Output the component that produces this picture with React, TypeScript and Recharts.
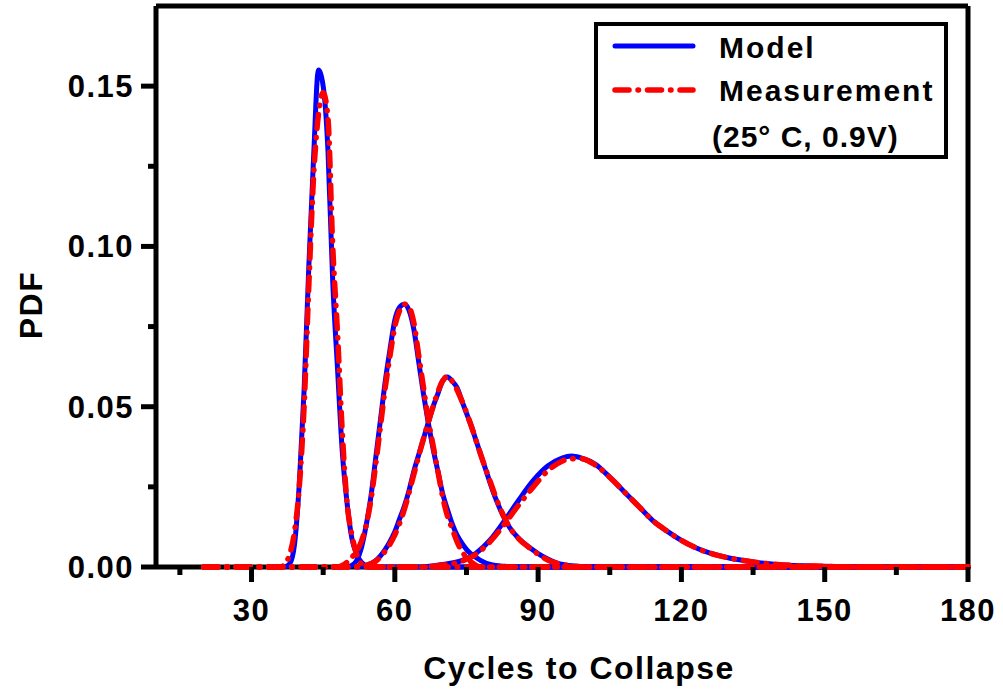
import React from 'react';
import { LineChart, Line, XAxis, YAxis, ReferenceLine, Legend } from 'recharts';

// ---- axes / ticks ----
const xDomain: [number, number] = [10, 180];
const yDomain: [number, number] = [0, 0.175];
const xTicks = [15, 30, 45, 60, 75, 90, 105, 120, 135, 150, 165, 180];
const xMajorTicks = [30, 60, 90, 120, 150, 180];
const yTicks = [0, 0.025, 0.05, 0.075, 0.1, 0.125, 0.15];
const yMajorTicks = [0, 0.05, 0.1, 0.15];

const seriesNames = ['Model', 'Measurement'];
const legendNote = '(25° C, 0.9V)';
const xTitle = 'Cycles to Collapse';
const yTitle = 'PDF';

// ---- Model curves (blue, solid) ----
const model1X = [37, 38, 39, 40, 41, 42, 43, 44, 45, 46, 47, 48, 49, 50, 51, 52, 53, 55, 60, 80, 120, 180];
const model1Y = [0, 0.001, 0.007, 0.026, 0.055, 0.094, 0.128, 0.155, 0.15, 0.13, 0.089, 0.062, 0.036, 0.02, 0.009, 0.004, 0.0015, 0, 0, 0, 0, 0];

const model2X = [50, 51, 52, 53, 54, 55, 56, 57, 58, 59, 60, 61, 62, 63, 64, 65, 66, 67, 68, 69, 70, 71, 72, 73, 74, 75, 76, 77, 78, 80, 83, 86, 100, 140, 180];
const model2Y = [0, 0.0005, 0.002, 0.006, 0.013, 0.022, 0.034, 0.046, 0.058, 0.068, 0.077, 0.081, 0.082, 0.08, 0.074, 0.064, 0.054, 0.045, 0.037, 0.03, 0.023, 0.018, 0.0135, 0.01, 0.0075, 0.0055, 0.004, 0.003, 0.002, 0.0008, 0.0002, 0, 0, 0, 0];

const model3X = [52, 54, 56, 57, 58, 59, 60, 61, 62, 63, 64, 65, 66, 67, 68, 69, 70, 71, 72, 73, 74, 75, 76, 77, 78, 79, 80, 81, 82, 83, 84, 86, 88, 90, 92, 94, 97, 102, 140, 180];
const model3Y = [0, 0.0005, 0.002, 0.0035, 0.0055, 0.008, 0.011, 0.015, 0.019, 0.024, 0.03, 0.035, 0.04, 0.045, 0.05, 0.054, 0.058, 0.0593, 0.058, 0.056, 0.052, 0.048, 0.044, 0.0395, 0.035, 0.0305, 0.026, 0.0218, 0.0182, 0.015, 0.0124, 0.0088, 0.0063, 0.0042, 0.0025, 0.0012, 0.0004, 0, 0, 0];

const model4X = [66, 70, 74, 77, 80, 83, 86, 89, 92, 95, 97, 99, 102, 105, 108, 111, 114, 117, 120, 123, 126, 130, 135, 140, 150, 160, 180];
const model4Y = [0, 0.0008, 0.002, 0.0043, 0.0085, 0.0145, 0.021, 0.027, 0.0315, 0.034, 0.0346, 0.034, 0.032, 0.028, 0.0235, 0.019, 0.0145, 0.0112, 0.0083, 0.006, 0.0043, 0.0028, 0.0016, 0.0008, 0.0002, 0, 0];

// ---- Measurement curves (red, dash-dot) ----
const meas1X = [20, 25, 30, 35, 36, 37, 38, 39, 40, 41, 42, 43, 44, 45, 46, 47, 48, 49, 50, 51, 52, 53, 55, 60, 80, 120, 180];
const meas1Y = [0, 0, 0, 0, 0, 0.001, 0.004, 0.011, 0.025, 0.05, 0.088, 0.122, 0.141, 0.148, 0.14, 0.1, 0.073, 0.042, 0.02, 0.01, 0.004, 0.001, 0, 0, 0, 0, 0];

const meas2X = [20, 30, 40, 45, 48, 49, 50, 51, 52, 53, 54, 55, 56, 57, 58, 59, 60, 61, 62, 63, 64, 65, 66, 67, 68, 69, 70, 71, 72, 73, 74, 75, 76, 77, 78, 80, 85, 100, 140, 180];
const meas2Y = [0, 0, 0, 0, 0, 0.0005, 0.0015, 0.003, 0.005, 0.008, 0.013, 0.021, 0.032, 0.044, 0.056, 0.066, 0.075, 0.08, 0.082, 0.081, 0.076, 0.066, 0.056, 0.046, 0.038, 0.03, 0.022, 0.016, 0.012, 0.008, 0.005, 0.003, 0.0015, 0.0005, 0, 0, 0, 0, 0, 0];

const meas3X = [20, 30, 40, 50, 54, 56, 58, 60, 62, 64, 66, 68, 70, 71, 72, 74, 76, 78, 80, 82, 84, 86, 88, 90, 92, 95, 100, 120, 150, 180];
const meas3Y = [0, 0, 0, 0, 0.0005, 0.0018, 0.005, 0.01, 0.018, 0.029, 0.04, 0.05, 0.058, 0.0595, 0.058, 0.052, 0.044, 0.035, 0.0265, 0.0185, 0.0125, 0.0087, 0.0062, 0.004, 0.0022, 0.0008, 0, 0, 0, 0];

const meas4X = [20, 40, 60, 66, 70, 74, 77, 80, 83, 86, 89, 92, 95, 97, 99, 102, 105, 108, 111, 114, 117, 120, 123, 126, 130, 135, 140, 150, 160, 180];
const meas4Y = [0, 0, 0, 0, 0.0006, 0.0018, 0.004, 0.008, 0.0135, 0.0195, 0.025, 0.03, 0.033, 0.0338, 0.0338, 0.0318, 0.028, 0.0235, 0.019, 0.0145, 0.0112, 0.0083, 0.006, 0.0043, 0.0028, 0.0016, 0.0008, 0.0002, 0, 0];

const toPoints = (xs: number[], ys: number[]) => xs.map((x, i) => ({ x, y: ys[i] }));

const modelSeries = [
  toPoints(model1X, model1Y),
  toPoints(model2X, model2Y),
  toPoints(model3X, model3Y),
  toPoints(model4X, model4Y),
];
const measSeries = [
  toPoints(meas1X, meas1Y),
  toPoints(meas2X, meas2Y),
  toPoints(meas3X, meas3Y),
  toPoints(meas4X, meas4Y),
];

const FONT = "'Liberation Sans', Arial, Helvetica, sans-serif";
const BLUE = '#0000ff';
const RED = '#ff0000';
const DASH = '14 9 0.5 9';
const AXIS_W = 5;

const XTick = (props: any) => {
  const { x, y, payload } = props;
  const major = xMajorTicks.includes(payload.value);
  return (
    <g>
      <line x1={x} y1={y} x2={x} y2={y + (major ? 15 : 8)} stroke="#000" strokeWidth={AXIS_W} />
      {major && (
        <text x={x} y={y + 54} textAnchor="middle" fontFamily={FONT} fontWeight="bold" fontSize={31} fill="#000" style={{ letterSpacing: 1.5 }}>
          {payload.value}
        </text>
      )}
    </g>
  );
};

const YTick = (props: any) => {
  const { x, y, payload } = props;
  const major = yMajorTicks.some((m) => Math.abs(m - payload.value) < 1e-9);
  return (
    <g>
      <line x1={x - (major ? 15 : 8)} y1={y} x2={x} y2={y} stroke="#000" strokeWidth={AXIS_W} />
      {major && (
        <text x={x - 22} y={y + 11} textAnchor="end" fontFamily={FONT} fontWeight="bold" fontSize={31} fill="#000" style={{ letterSpacing: 1.5 }}>
          {payload.value.toFixed(2)}
        </text>
      )}
    </g>
  );
};

const XTitle = (props: any) => {
  const vb = props.viewBox || { x: 156, width: 812 };
  return (
    <text x={vb.x + vb.width / 2 + 17} y={679} textAnchor="middle" fontFamily={FONT} fontWeight="bold" fontSize={32} fill="#000" style={{ letterSpacing: 1.5 }}>
      {xTitle}
    </text>
  );
};

const YTitle = () => (
  <text x={42} y={305} transform="rotate(-90, 42, 305)" textAnchor="middle" fontFamily={FONT} fontWeight="bold" fontSize={32} fill="#000" style={{ letterSpacing: 1.5 }}>
    {yTitle}
  </text>
);

const LegendBox = () => (
  <svg width={356} height={140} style={{ display: 'block' }}>
    <rect x={2} y={2} width={350} height={133} fill="#fff" stroke="#000" strokeWidth={4} />
    <line x1={21} y1={24} x2={99} y2={24} stroke={BLUE} strokeWidth={5} strokeLinecap="round" />
    <line x1={21} y1={68} x2={99} y2={68} stroke={RED} strokeWidth={5.5} strokeLinecap="round" strokeDasharray={DASH} />
    <text x={125} y={36} fontFamily={FONT} fontWeight="bold" fontSize={30} fill="#000" style={{ letterSpacing: 2 }}>
      {seriesNames[0]}
    </text>
    <text x={125} y={79} fontFamily={FONT} fontWeight="bold" fontSize={30} fill="#000" style={{ letterSpacing: 2 }}>
      {seriesNames[1]}
    </text>
    <text x={118} y={125} fontFamily={FONT} fontWeight="bold" fontSize={30} fill="#000" style={{ letterSpacing: 1 }}>
      {legendNote}
    </text>
  </svg>
);

export default function App() {
  return (
    <div style={{ position: 'absolute', left: 0, top: 0, width: 1003, height: 691, background: '#fff' }}>
      <LineChart width={1003} height={691} margin={{ top: 6, right: 35, bottom: 0, left: 0 }}>
        <XAxis
          type="number"
          dataKey="x"
          domain={xDomain}
          ticks={xTicks}
          interval={0}
          height={124}
          tickSize={0}
          tickMargin={0}
          tickLine={false}
          tick={<XTick />}
          stroke="#000"
          strokeWidth={AXIS_W}
          axisLine={{ stroke: '#000', strokeWidth: AXIS_W }}
          label={<XTitle />}
        />
        <YAxis
          type="number"
          dataKey="y"
          domain={yDomain}
          ticks={yTicks}
          interval={0}
          width={156}
          tickSize={0}
          tickMargin={0}
          tickLine={false}
          tick={<YTick />}
          stroke="#000"
          strokeWidth={AXIS_W}
          axisLine={{ stroke: '#000', strokeWidth: AXIS_W }}
          label={<YTitle />}
        />
        <ReferenceLine y={yDomain[1]} stroke="#000" strokeWidth={AXIS_W} />
        <ReferenceLine x={xDomain[1]} stroke="#000" strokeWidth={AXIS_W} />
        {modelSeries.map((d, i) => (
          <Line
            key={`m${i}`}
            data={d}
            dataKey="y"
            name={seriesNames[0]}
            type="monotone"
            stroke={BLUE}
            strokeWidth={5}
            dot={false}
            activeDot={false}
            isAnimationActive={false}
            {...({ zIndex: 610 } as any)}
          />
        ))}
        {measSeries.map((d, i) => (
          <Line
            key={`d${i}`}
            data={d}
            dataKey="y"
            name={seriesNames[1]}
            type="monotone"
            stroke={RED}
            strokeWidth={5.5}
            strokeDasharray={DASH}
            strokeLinecap="round"
            dot={false}
            activeDot={false}
            isAnimationActive={false}
            {...({ zIndex: 620 } as any)}
          />
        ))}
        <Legend
          layout="vertical"
          align="center"
          verticalAlign="middle"
          content={<LegendBox />}
          wrapperStyle={{ position: 'absolute', left: 594, top: 22, width: 356, height: 140 }}
        />
      </LineChart>
    </div>
  );
}
